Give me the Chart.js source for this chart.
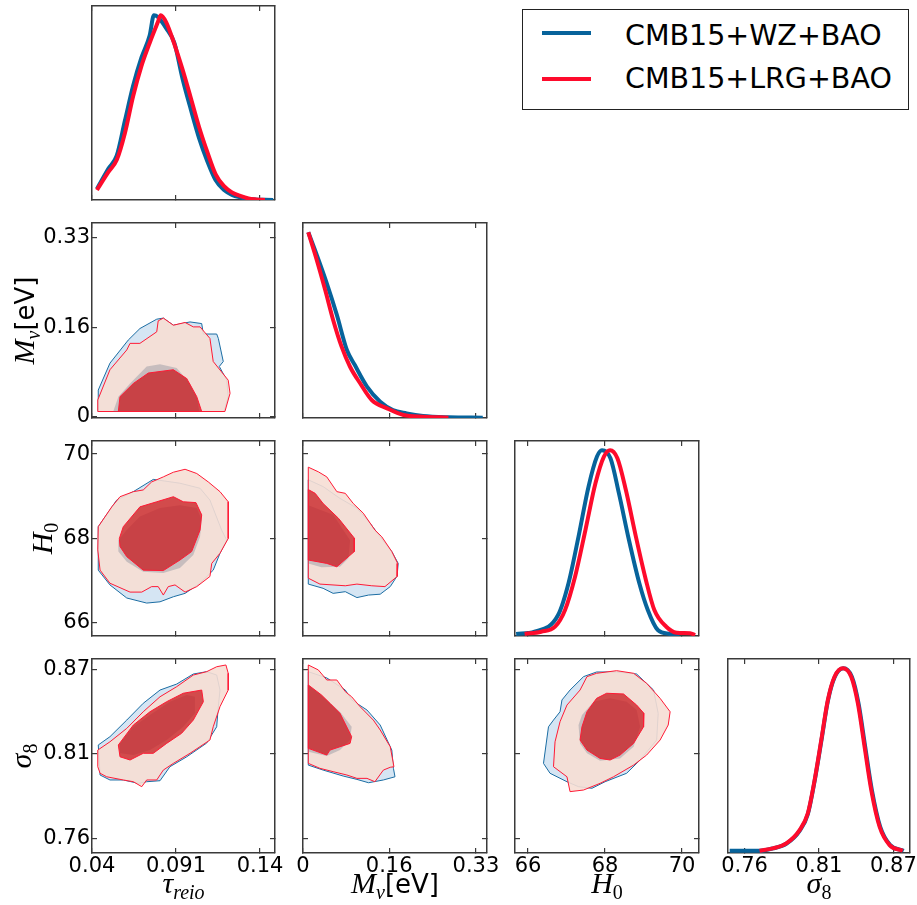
<!DOCTYPE html>
<html>
<head>
<meta charset="utf-8">
<title>Triangle plot</title>
<script src="https://cdn.jsdelivr.net/npm/chart.js@4.4.1/dist/chart.umd.min.js"></script>
<style>
  body { margin: 0; background: #fff; }
  #wrap { position: relative; width: 917px; height: 905px; overflow: hidden; }
  #wrap canvas { position: absolute; left: 0; top: 0; }
  #legend { position: absolute; left: 522px; top: 9px; width: 387px; height: 101px;
            border: 1px solid #222; box-sizing: border-box; background: #fff; }
  .swatch { position: absolute; width: 49px; height: 4px; }
  .name { position: absolute; height: 34px; line-height: 34px; white-space: nowrap;
          font-family: "DejaVu Sans", sans-serif; font-size: 28.5px; color: #000; }
</style>
</head>
<body>
<div id="wrap">
  <div id="legend"></div>
</div>
<script>
/* ---------- series ---------- */
const seriesNames = ['CMB15+WZ+BAO', 'CMB15+LRG+BAO'];
const seriesLine = ['#07639b', '#fe0b2c'];

/* ---------- ticks & limits (tau_reio, M_nu, H0, sigma8) ---------- */
const tauTicks = [0.04, 0.091, 0.142];
const tauTickLabels = ['0.04', '0.091', '0.14'];
const mnuTicks = [0, 0.163, 0.327];
const mnuTickLabels = ['0', '0.16', '0.33'];
const h0Ticks = [66, 68, 70];
const h0TickLabels = ['66', '68', '70'];
const s8Ticks = [0.755, 0.813, 0.871];
const s8TickLabels = ['0.76', '0.81', '0.87'];

const tauLimits = [0.04, 0.1511];
const mnuLimitsX = [0, 0.348];
const mnuLimitsY = [-0.0018, 0.353];
const h0LimitsX = [65.66, 70.44];
const h0LimitsY = [65.69, 70.31];
const s8LimitsX = [0.7421, 0.8839];
const s8LimitsY = [0.7451, 0.8782];
const pdfLimits = [0, 1.05];

/* ---------- 1D posteriors ---------- */
const tauGridWZ = [0.043, 0.050, 0.055, 0.060, 0.065, 0.070, 0.075, 0.0776, 0.080, 0.085, 0.090, 0.095, 0.100, 0.105, 0.110, 0.115, 0.120, 0.125, 0.130, 0.135, 0.140, 0.145, 0.150];
const tauPdfWZ  = [0.06, 0.17, 0.24, 0.43, 0.62, 0.77, 0.89, 1.0, 0.99, 0.93, 0.85, 0.655, 0.49, 0.335, 0.21, 0.108, 0.055, 0.028, 0.014, 0.005, 0.002, 0.001, 0.0];
const tauGridLRG = [0.043, 0.050, 0.055, 0.060, 0.065, 0.070, 0.075, 0.080, 0.0817, 0.085, 0.090, 0.095, 0.100, 0.105, 0.110, 0.115, 0.120, 0.125, 0.130, 0.135, 0.140, 0.145];
const tauPdfLRG  = [0.054, 0.152, 0.216, 0.363, 0.563, 0.725, 0.850, 0.963, 1.0, 0.963, 0.844, 0.706, 0.552, 0.395, 0.26, 0.14, 0.076, 0.041, 0.022, 0.008, 0.003, 0.0];

const mnuGridWZ = [0.010, 0.026, 0.045, 0.064, 0.083, 0.098, 0.121, 0.146, 0.170, 0.196, 0.227, 0.275, 0.340];
const mnuPdfWZ  = [1.0, 0.878, 0.725, 0.555, 0.366, 0.285, 0.169, 0.088, 0.043, 0.025, 0.011, 0.004, 0.002];
const mnuGridLRG = [0.010, 0.026, 0.042, 0.057, 0.073, 0.089, 0.108, 0.130, 0.159, 0.190, 0.227, 0.275];
const mnuPdfLRG  = [1.0, 0.851, 0.689, 0.528, 0.384, 0.276, 0.187, 0.097, 0.052, 0.016, 0.007, 0.002];

const h0GridWZ = [65.69, 66.17, 66.78, 67.05, 67.31, 67.57, 67.79, 67.92, 68.14, 68.36, 68.62, 68.89, 69.11, 69.37, 69.68, 69.94];
const h0PdfWZ  = [0.011, 0.023, 0.113, 0.284, 0.535, 0.804, 0.966, 1.0, 0.957, 0.768, 0.517, 0.284, 0.14, 0.032, 0.011, 0.005];
const h0GridLRG = [65.91, 66.34, 66.70, 66.96, 67.22, 67.49, 67.75, 67.97, 68.13, 68.32, 68.54, 68.80, 69.06, 69.28, 69.59, 69.86, 70.21, 70.34];
const h0PdfLRG  = [0.011, 0.023, 0.05, 0.14, 0.319, 0.571, 0.822, 0.966, 1.0, 0.957, 0.786, 0.535, 0.302, 0.14, 0.05, 0.018, 0.015, 0.005];

const s8GridWZ = [0.7434, 0.7667, 0.7771, 0.7875, 0.7979, 0.8043, 0.8096, 0.8148, 0.8199, 0.8251, 0.8320, 0.8386, 0.8438, 0.8490, 0.8542, 0.8607, 0.8685, 0.8790];
const s8PdfWZ  = [0.012, 0.012, 0.025, 0.050, 0.120, 0.210, 0.39, 0.605, 0.822, 0.950, 1.0, 0.954, 0.810, 0.575, 0.341, 0.142, 0.043, 0.012];
const s8GridLRG = [0.7667, 0.7771, 0.7875, 0.7979, 0.8043, 0.8096, 0.8148, 0.8199, 0.8251, 0.8316, 0.8381, 0.8433, 0.8485, 0.8537, 0.8602, 0.8680, 0.8783];
const s8PdfLRG  = [0.012, 0.025, 0.052, 0.124, 0.215, 0.395, 0.612, 0.828, 0.954, 1.0, 0.954, 0.810, 0.575, 0.341, 0.142, 0.043, 0.012];

/* ---------- 2D credible regions (68% / 95%) ---------- */
const tauMnuWZ95 = [[0.0438,0.010],[0.0438,0.049],[0.0509,0.098],[0.0620,0.140],[0.0691,0.161],[0.0793,0.178],[0.0833,0.180],[0.0894,0.167],[0.0995,0.173],[0.1066,0.170],[0.1076,0.151],[0.1157,0.151],[0.1167,0.143],[0.1197,0.101],[0.1173,0.092],[0.1218,0.067],[0.1227,0.037],[0.1201,0.010]];
const tauMnuWZ68 = [[0.0529,0.010],[0.0560,0.037],[0.0631,0.061],[0.0732,0.092],[0.0813,0.096],[0.0914,0.089],[0.0995,0.061],[0.1036,0.037],[0.1051,0.010]];
const tauMnuLRG95 = [[0.0435,0.010],[0.0435,0.031],[0.0509,0.086],[0.0611,0.122],[0.0631,0.134],[0.0691,0.134],[0.0793,0.155],[0.0802,0.175],[0.0833,0.180],[0.0894,0.167],[0.0965,0.172],[0.1015,0.164],[0.1056,0.164],[0.1116,0.143],[0.1136,0.101],[0.1227,0.067],[0.1238,0.043],[0.1207,0.010]];
const tauMnuLRG68 = [[0.0560,0.010],[0.0570,0.037],[0.0651,0.061],[0.0742,0.080],[0.0894,0.086],[0.0975,0.070],[0.1036,0.037],[0.1066,0.010]];

const tauH0WZ95 = [[0.0438,67.25],[0.0438,68.28],[0.0550,68.91],[0.0651,69.11],[0.0772,69.40],[0.0934,69.31],[0.1056,69.19],[0.1116,68.91],[0.1187,68.20],[0.1218,67.96],[0.1177,67.65],[0.1136,67.25],[0.1056,66.94],[0.0965,66.70],[0.0894,66.62],[0.0813,66.50],[0.0732,66.47],[0.0611,66.59],[0.0509,66.90]];
const tauH0WZ68 = [[0.0560,67.69],[0.0611,67.45],[0.0711,67.21],[0.0833,67.18],[0.0934,67.30],[0.1015,67.61],[0.1056,68.04],[0.1066,68.44],[0.1036,68.72],[0.0934,68.79],[0.0813,68.72],[0.0691,68.52],[0.0611,68.20],[0.0560,67.96]];
const tauH0LRG95 = [[0.0438,68.28],[0.0520,68.75],[0.0570,68.99],[0.0651,69.11],[0.0711,69.15],[0.0762,69.34],[0.0833,69.46],[0.0894,69.57],[0.0965,69.64],[0.1036,69.54],[0.1106,69.34],[0.1177,69.11],[0.1227,68.87],[0.1227,68.00],[0.1177,67.65],[0.1127,67.41],[0.1116,67.10],[0.1036,66.86],[0.0965,66.73],[0.0904,66.90],[0.0863,66.86],[0.0833,66.66],[0.0802,66.86],[0.0762,66.86],[0.0702,66.73],[0.0631,66.73],[0.0509,66.94],[0.0449,67.25],[0.0435,67.73]];
const tauH0LRG68 = [[0.0566,68.00],[0.0590,68.28],[0.0691,68.75],[0.0793,68.87],[0.0894,68.99],[0.0954,68.87],[0.1031,68.85],[0.1066,68.56],[0.1056,68.20],[0.1005,67.69],[0.0934,67.49],[0.0833,67.24],[0.0711,67.25],[0.0611,67.57],[0.0570,67.81]];

const tauS8WZ95 = [[0.0438,0.8192],[0.0509,0.8249],[0.0611,0.8363],[0.0711,0.8478],[0.0813,0.8569],[0.0914,0.8610],[0.1015,0.8679],[0.1096,0.8695],[0.1157,0.8672],[0.1177,0.8569],[0.1165,0.8432],[0.1157,0.8317],[0.1096,0.8205],[0.0975,0.8111],[0.0873,0.8043],[0.0813,0.7947],[0.0732,0.7940],[0.0681,0.7929],[0.0590,0.7952],[0.0509,0.7952],[0.0449,0.7986]];
const tauS8WZ68 = [[0.0570,0.8203],[0.0651,0.8317],[0.0752,0.8398],[0.0873,0.8489],[0.0975,0.8535],[0.1025,0.8523],[0.1025,0.8409],[0.0954,0.8317],[0.0853,0.8226],[0.0752,0.8157],[0.0651,0.8123],[0.0576,0.8135]];
const tauS8LRG95 = [[0.0435,0.8157],[0.0509,0.8214],[0.0611,0.8306],[0.0711,0.8420],[0.0813,0.8523],[0.0914,0.8592],[0.1015,0.8672],[0.1096,0.8695],[0.1157,0.8729],[0.1213,0.8741],[0.1227,0.8684],[0.1227,0.8569],[0.1177,0.8455],[0.1136,0.8317],[0.1116,0.8226],[0.0995,0.8135],[0.0894,0.8066],[0.0833,0.8020],[0.0793,0.7952],[0.0732,0.7952],[0.0702,0.7906],[0.0651,0.7940],[0.0590,0.7952],[0.0489,0.7974],[0.0449,0.7998],[0.0435,0.8043]];
const tauS8LRG68 = [[0.0560,0.8192],[0.0651,0.8329],[0.0752,0.8420],[0.0853,0.8489],[0.0954,0.8547],[0.1066,0.8569],[0.1076,0.8489],[0.1015,0.8363],[0.0944,0.8272],[0.0853,0.8203],[0.0772,0.8135],[0.0711,0.8135],[0.0631,0.8089],[0.0570,0.8111]];

const mnuH0WZ95 = [[0.010,69.39],[0.038,69.23],[0.070,68.95],[0.102,68.72],[0.127,68.36],[0.146,68.04],[0.168,67.69],[0.180,67.41],[0.178,67.11],[0.165,66.86],[0.146,66.68],[0.124,66.66],[0.102,66.60],[0.080,66.74],[0.057,66.70],[0.038,66.82],[0.010,66.92]];
const mnuH0WZ68 = [[0.010,68.79],[0.032,68.68],[0.057,68.56],[0.076,68.20],[0.089,67.96],[0.086,67.53],[0.070,67.33],[0.035,67.32],[0.010,67.41]];
const mnuH0LRG95 = [[0.010,69.69],[0.029,69.58],[0.045,69.46],[0.064,69.11],[0.080,69.07],[0.095,68.83],[0.114,68.60],[0.136,68.20],[0.149,68.04],[0.168,67.69],[0.179,67.41],[0.178,67.10],[0.155,66.86],[0.130,66.88],[0.102,66.92],[0.080,66.88],[0.032,66.92],[0.010,67.06]];
const mnuH0LRG68 = [[0.010,69.16],[0.023,69.07],[0.038,68.83],[0.067,68.48],[0.097,68.01],[0.097,67.69],[0.064,67.33],[0.045,67.41],[0.010,67.49]];

const mnuS8WZ95 = [[0.010,0.8695],[0.045,0.8652],[0.080,0.8569],[0.092,0.8501],[0.121,0.8432],[0.146,0.8329],[0.168,0.8157],[0.171,0.8032],[0.174,0.7974],[0.152,0.7952],[0.124,0.7933],[0.102,0.7956],[0.076,0.7979],[0.038,0.8020],[0.010,0.8054]];
const mnuS8WZ68 = [[0.010,0.8604],[0.045,0.8501],[0.070,0.8420],[0.092,0.8317],[0.089,0.8226],[0.070,0.8157],[0.045,0.8116],[0.010,0.8146]];
const mnuS8LRG95 = [[0.010,0.8741],[0.029,0.8707],[0.045,0.8638],[0.064,0.8638],[0.080,0.8558],[0.092,0.8523],[0.108,0.8455],[0.133,0.8363],[0.146,0.8295],[0.165,0.8180],[0.172,0.8043],[0.165,0.8039],[0.152,0.8020],[0.136,0.7940],[0.121,0.7963],[0.102,0.7963],[0.083,0.7986],[0.057,0.8009],[0.032,0.8032],[0.010,0.8066]];
const mnuS8LRG68 = [[0.010,0.8604],[0.035,0.8535],[0.051,0.8478],[0.070,0.8409],[0.092,0.8249],[0.089,0.8203],[0.051,0.8157],[0.045,0.8123],[0.010,0.8169]];

const h0S8WZ95 = [[67.44,0.8661],[67.78,0.8693],[68.30,0.8693],[68.82,0.8679],[69.26,0.8569],[69.38,0.8409],[69.34,0.8226],[68.91,0.8089],[68.56,0.7998],[68.00,0.7940],[67.66,0.7895],[67.31,0.7906],[67.01,0.7940],[66.57,0.7998],[66.40,0.8066],[66.53,0.8317],[66.66,0.8363],[66.83,0.8420],[66.88,0.8501],[67.09,0.8569]];
const h0S8WZ68 = [[67.31,0.8329],[67.40,0.8398],[67.70,0.8489],[68.13,0.8512],[68.56,0.8489],[68.82,0.8432],[68.91,0.8317],[68.74,0.8180],[68.39,0.8100],[67.87,0.8084],[67.53,0.8135],[67.35,0.8203]];
const h0S8LRG95 = [[67.09,0.7872],[67.01,0.7974],[66.66,0.8043],[66.70,0.8214],[66.83,0.8352],[67.01,0.8466],[67.35,0.8569],[67.53,0.8661],[67.78,0.8684],[68.30,0.8702],[68.74,0.8684],[69.08,0.8615],[69.43,0.8512],[69.69,0.8420],[69.64,0.8329],[69.43,0.8226],[69.08,0.8123],[68.74,0.8054],[68.22,0.7974],[67.87,0.7929],[67.44,0.7883]];
const h0S8LRG68 = [[67.40,0.8317],[67.53,0.8420],[67.78,0.8512],[68.04,0.8547],[68.48,0.8542],[68.82,0.8466],[69.01,0.8409],[69.00,0.8317],[68.74,0.8203],[68.39,0.8123],[68.13,0.8089],[67.87,0.8100],[67.53,0.8157],[67.35,0.8226]];

/* ---------- look ---------- */
const FRAME = '#3a3a3a';
const wzFill95 = '#d5e5f3';
const wzFill68 = 'rgba(105,118,138,0.32)';
const lrgFill95 = 'rgba(246,222,212,0.9)';
const lrgFill68 = 'rgba(200,28,32,0.76)';
const mathFont = '"Liberation Serif", "DejaVu Serif", serif';
const tickFont = { family: '"DejaVu Sans", sans-serif', size: 21 };

const colBox = [[92, 275], [303, 487], [515, 699], [728, 910]];
const rowBox = [[6, 200], [223, 418], [441, 636], [659, 853]];
const W = 917, H = 905;
const LABEL_W = 60, LABEL_H = 40;   // room kept for tick labels on outer axes

const params = [
  { ticks: tauTicks, labels: tauTickLabels, xLim: tauLimits, yLim: null, gap: 0,
    pdf: [tauGridWZ, tauPdfWZ, tauGridLRG, tauPdfLRG],
    title: [{ text: 'τ', font: 'italic 30px ' + mathFont }, { text: 'reio', font: 'italic 20px ' + mathFont, dy: 6 }] },
  { ticks: mnuTicks, labels: mnuTickLabels, xLim: mnuLimitsX, yLim: mnuLimitsY, gap: 58,
    pdf: [mnuGridWZ, mnuPdfWZ, mnuGridLRG, mnuPdfLRG],
    title: [{ text: 'M', font: 'italic 30px ' + mathFont }, { text: 'ν', font: 'italic 20px ' + mathFont, dy: 6 },
            { text: '[eV]', font: '26px "DejaVu Sans", sans-serif' }] },
  { ticks: h0Ticks, labels: h0TickLabels, xLim: h0LimitsX, yLim: h0LimitsY, gap: 40,
    pdf: [h0GridWZ, h0PdfWZ, h0GridLRG, h0PdfLRG],
    title: [{ text: 'H', font: 'italic 30px ' + mathFont }, { text: '0', font: '20px ' + mathFont, dy: 6 }] },
  { ticks: s8Ticks, labels: s8TickLabels, xLim: s8LimitsX, yLim: s8LimitsY, gap: 61,
    pdf: [s8GridWZ, s8PdfWZ, s8GridLRG, s8PdfLRG],
    title: [{ text: 'σ', font: 'italic 30px ' + mathFont }, { text: '8', font: '20px ' + mathFont, dy: 6 }] }
];

const regions = {
  '1,0': [tauMnuWZ95, tauMnuWZ68, tauMnuLRG95, tauMnuLRG68],
  '2,0': [tauH0WZ95, tauH0WZ68, tauH0LRG95, tauH0LRG68],
  '3,0': [tauS8WZ95, tauS8WZ68, tauS8LRG95, tauS8LRG68],
  '2,1': [mnuH0WZ95, mnuH0WZ68, mnuH0LRG95, mnuH0LRG68],
  '3,1': [mnuS8WZ95, mnuS8WZ68, mnuS8LRG95, mnuS8LRG68],
  '3,2': [h0S8WZ95, h0S8WZ68, h0S8LRG95, h0S8LRG68]
};

Chart.defaults.font.family = '"DejaVu Sans", sans-serif';

/* ---------- helpers ---------- */
function frameAxis(position, limits, ticks, labels, showLabels) {
  const horizontal = position === 'top' || position === 'bottom';
  const size = showLabels ? (horizontal ? LABEL_H : LABEL_W) : 0;
  return {
    type: 'linear', position: position, min: limits[0], max: limits[1],
    afterBuildTicks: s => { s.ticks = (ticks || []).map(v => ({ value: v })); },
    afterFit: s => {
      if (horizontal) s.height = size; else s.width = size;
      s.paddingLeft = s.paddingRight = s.paddingTop = s.paddingBottom = 0;
    },
    border: { display: true, color: FRAME, width: 1.5 },
    grid: { display: !!ticks, drawOnChartArea: false, drawTicks: true, tickLength: -5, color: FRAME, lineWidth: 1.2 },
    ticks: { display: showLabels, padding: horizontal ? 6 : 7, color: '#000', font: tickFont,
             maxRotation: 0, autoSkip: false,
             callback: (v, i) => (labels ? labels[i] : '') }
  };
}

function pdfSet(xs, ys, color, order) {
  return {
    data: xs.map((x, i) => ({ x: x, y: ys[i] })),
    showLine: true, fill: false, borderColor: color, borderWidth: 4,
    pointRadius: 0, cubicInterpolationMode: 'monotone', order: order
  };
}

function regionSet(pts, fillColor, lineColor, lineWidth, order) {
  const data = pts.map(p => ({ x: p[0], y: p[1] }));
  data.push({ x: pts[0][0], y: pts[0][1] });
  return {
    data: data, showLine: true, fill: 'shape', backgroundColor: fillColor,
    borderColor: lineColor, borderWidth: lineWidth, pointRadius: 0, tension: 0, order: order
  };
}

function drawMath(ctx, parts, cx, cy, rotate) {
  ctx.save();
  ctx.translate(cx, cy);
  if (rotate) ctx.rotate(-Math.PI / 2);
  let total = 0;
  parts.forEach(p => { ctx.font = p.font; total += ctx.measureText(p.text).width; });
  let x = -total / 2;
  ctx.fillStyle = '#000';
  ctx.textBaseline = 'alphabetic';
  parts.forEach(p => {
    ctx.font = p.font;
    ctx.fillText(p.text, x, p.dy || 0);
    x += ctx.measureText(p.text).width;
  });
  ctx.restore();
}

const wrap = document.getElementById('wrap');

function buildPanel(r, c) {
  const px = params[c], py = params[r];
  const diag = r === c;
  const datasets = [];
  if (diag) {
    datasets.push(pdfSet(px.pdf[0], px.pdf[1], seriesLine[0], 2));
    datasets.push(pdfSet(px.pdf[2], px.pdf[3], seriesLine[1], 1));
  } else {
    // drawn bottom to top: WZ 95%, LRG 95%, WZ 68%, LRG 68%
    const reg = regions[r + ',' + c];
    datasets.push(regionSet(reg[0], wzFill95, '#1b6da3', 1, 4));
    datasets.push(regionSet(reg[2], lrgFill95, '#ff1a35', 1, 3));
    datasets.push(regionSet(reg[1], wzFill68, 'rgba(0,0,0,0)', 0, 2));
    datasets.push(regionSet(reg[3], lrgFill68, '#ff1a35', 1, 1));
  }
  const yLim = diag ? pdfLimits : py.yLim;
  const yTicks = diag ? null : py.ticks;
  const showX = r === 3;
  const showY = !diag && c === 0;

  const canvas = document.createElement('canvas');
  canvas.width = W; canvas.height = H;
  wrap.insertBefore(canvas, document.getElementById('legend'));

  new Chart(canvas.getContext('2d'), {
    type: 'scatter',
    data: { datasets: datasets },
    options: {
      responsive: false, animation: false, devicePixelRatio: 1,
      layout: { padding: {
        left: colBox[c][0] - (showY ? LABEL_W : 0),
        right: W - colBox[c][1],
        top: rowBox[r][0],
        bottom: H - rowBox[r][1] - (showX ? LABEL_H : 0)
      } },
      plugins: { legend: { display: false }, tooltip: { enabled: false } },
      scales: {
        x: frameAxis('bottom', px.xLim, px.ticks, px.labels, showX),
        x2: frameAxis('top', px.xLim, px.ticks, null, false),
        y: frameAxis('left', yLim, yTicks, py.labels, showY),
        y2: frameAxis('right', yLim, yTicks, null, false)
      }
    },
    plugins: [{
      id: 'mathTitles',
      afterDraw(chart) {
        const a = chart.chartArea, ctx = chart.ctx;
        if (r === 3) drawMath(ctx, px.title, (a.left + a.right) / 2, a.bottom + 40, false);
        if (c === 0 && r > 0) drawMath(ctx, py.title, a.left - py.gap, (a.top + a.bottom) / 2, true);
      }
    }]
  });
}

for (let r = 0; r < 4; r++) {
  for (let c = 0; c <= r; c++) buildPanel(r, c);
}

/* ---------- legend ---------- */
const legend = document.getElementById('legend');
seriesNames.forEach((name, i) => {
  const sw = document.createElement('div');
  sw.className = 'swatch';
  sw.style.left = '19px';
  sw.style.top = (21 + i * 46) + 'px';
  sw.style.background = seriesLine[i];
  legend.appendChild(sw);
  const tx = document.createElement('div');
  tx.className = 'name';
  tx.style.left = '102px';
  tx.style.top = (9 + i * 43) + 'px';
  tx.textContent = name;
  legend.appendChild(tx);
});
</script>
</body>
</html>
